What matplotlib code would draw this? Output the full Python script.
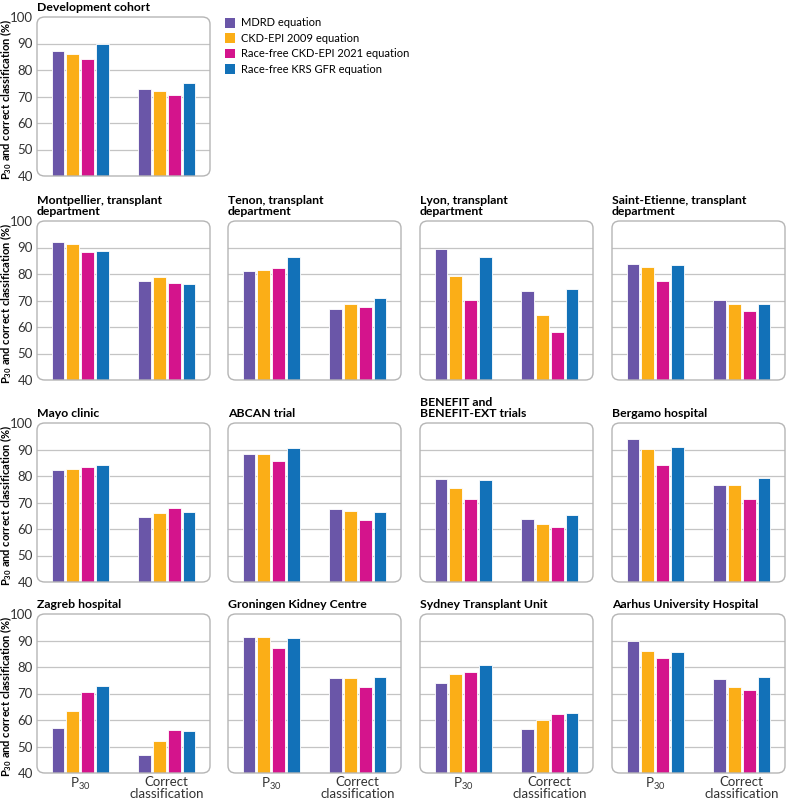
import numpy as np
import matplotlib.pyplot as plt
from matplotlib.patches import FancyBboxPatch, Patch

plt.rcParams['font.family'] = ['Lato', 'DejaVu Sans']

# Equations (series) and colours
equations = ['MDRD equation', 'CKD-EPI 2009 equation',
             'Race-free CKD-EPI 2021 equation', 'Race-free KRS GFR equation']
colors = ['#6a56a8', '#fbae17', '#d4148c', '#1271b8']
groups = ['P$_{\\mathregular{30}}$', 'Correct\nclassification']

# Values per cohort: [MDRD, CKD-EPI 2009, CKD-EPI 2021, KRS] for P30 and correct classification
dev_p30 = [87.2, 85.9, 84.2, 90.0]
dev_cc = [72.9, 72.1, 70.6, 75.1]

cohort_names = [
    'Montpellier, transplant\ndepartment', 'Tenon, transplant\ndepartment',
    'Lyon, transplant\ndepartment', 'Saint-Etienne, transplant\ndepartment',
    'Mayo clinic', 'ABCAN trial', 'BENEFIT and\nBENEFIT-EXT trials', 'Bergamo hospital',
    'Zagreb hospital', 'Groningen Kidney Centre', 'Sydney Transplant Unit',
    'Aarhus University Hospital',
]
p30 = [
    [92.1, 91.2, 88.3, 88.6],
    [81.3, 81.4, 82.2, 86.6],
    [89.3, 79.2, 70.3, 86.3],
    [83.7, 82.8, 77.2, 83.3],
    [82.3, 82.5, 83.3, 84.0],
    [88.4, 88.4, 85.6, 90.5],
    [79.0, 75.4, 71.5, 78.4],
    [94.1, 90.1, 84.0, 91.1],
    [57.0, 63.5, 70.4, 72.9],
    [91.5, 91.3, 87.1, 90.8],
    [74.0, 77.3, 78.2, 80.7],
    [89.9, 86.2, 83.3, 85.7],
]
correct = [
    [77.3, 78.9, 76.7, 76.4],
    [66.9, 68.7, 67.6, 71.0],
    [73.5, 64.7, 58.1, 74.3],
    [70.1, 68.5, 66.1, 68.5],
    [64.7, 66.0, 67.9, 66.6],
    [67.5, 66.9, 63.4, 66.3],
    [63.8, 61.8, 60.9, 65.3],
    [76.6, 76.6, 71.3, 79.3],
    [46.9, 51.9, 56.2, 55.8],
    [75.7, 75.8, 72.5, 76.4],
    [56.7, 60.0, 62.2, 62.5],
    [75.6, 72.5, 71.3, 76.3],
]

W, H = 786, 800
fig = plt.figure(figsize=(W / 100, H / 100), dpi=100)

col_left = [37, 228, 420, 612]
row_top = [17, 221, 423, 614]
pw, ph = 173, 159

ylabel = 'P$_{\\mathregular{30}}$ and correct classification (%)'


def make_ax(col, row):
    left = col_left[col] / W
    bottom = 1 - (row_top[row] + ph) / H
    return fig.add_axes([left, bottom, pw / W, ph / H])


def draw_panel(ax, vals_p30, vals_cc, title, first_col, last_row):
    ax.set_xlim(-0.5, 1.5)
    ax.set_ylim(40, 100)
    for s in ax.spines.values():
        s.set_visible(False)
    box = FancyBboxPatch((0, 0), 1, 1, boxstyle='round,pad=0,rounding_size=0.045',
                         transform=ax.transAxes, fill=False, ec='#b5b5b5', lw=1.0,
                         clip_on=False, zorder=3)
    ax.add_patch(box)
    for g in range(50, 100, 10):
        ax.axhline(g, color='#c4c4c4', lw=0.9, zorder=0)
    step = 0.172
    for i in range(4):
        off = (i - 1.5) * step
        ax.bar([0 + off, 1 + off], [vals_p30[i], vals_cc[i]], width=0.148,
               color=colors[i], edgecolor='white', lw=0.6, zorder=2)
    ax.tick_params(length=0, labelsize=9.5, colors='#333333')
    ax.set_yticks(range(40, 101, 10))
    if first_col:
        ax.tick_params(axis='y', pad=3)
        ax.set_ylabel(ylabel, fontsize=8, fontweight='bold')
        ax.yaxis.set_label_coords(-23 / pw, 0.48)
    else:
        ax.set_yticklabels([])
    ax.set_xticks([0, 1])
    if last_row:
        ax.set_xticklabels(groups, fontsize=9.5, color='#333333', linespacing=1.0)
        ax.tick_params(axis='x', pad=2)
    else:
        ax.set_xticklabels([])
    ax.set_title(title, loc='left', fontsize=8.8, fontweight='bold', pad=4,
                 linespacing=1.05)


ax0 = make_ax(0, 0)
draw_panel(ax0, dev_p30, dev_cc, 'Development cohort', True, False)

for k, name in enumerate(cohort_names):
    row = 1 + k // 4
    col = k % 4
    ax = make_ax(col, row)
    draw_panel(ax, p30[k], correct[k], name, col == 0, row == 3)

handles = [Patch(facecolor=c, edgecolor='none') for c in colors]
fig.legend(handles, equations, loc='upper left', bbox_to_anchor=(221 / W, 1 - 13 / H),
           frameon=False, fontsize=8, handlelength=0.9, handleheight=1.0,
           handletextpad=0.5, labelspacing=0.4, borderaxespad=0)

fig.savefig('out.png', dpi=100)
